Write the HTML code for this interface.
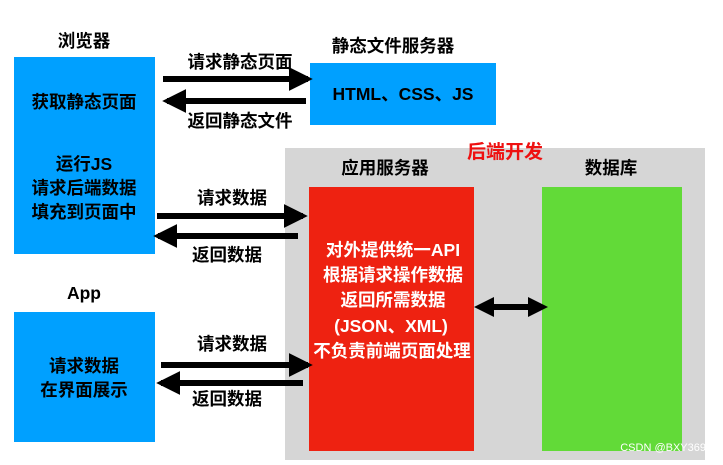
<!DOCTYPE html>
<html><head><meta charset="utf-8"><style>
html,body{margin:0;padding:0;background:#fff;}
svg text{font-family:"Liberation Sans","Noto Sans CJK SC",sans-serif;font-weight:bold;font-size:17.5px;}
</style></head><body>
<svg width="723" height="460" viewBox="0 0 723 460" xmlns="http://www.w3.org/2000/svg">
<defs>
<marker id="a" markerWidth="4" markerHeight="4" refX="3.2" refY="2" orient="auto" markerUnits="strokeWidth"><path d="M0,0 L4,2 L0,4 Z" fill="#000"/></marker>
</defs>
<rect x="285" y="148" width="420" height="312" fill="#d6d6d6"/>
<rect x="309" y="187" width="165" height="264" fill="#ee2211"/>
<rect x="542" y="187" width="140" height="264" fill="#62da38"/>
<rect x="14" y="57" width="141" height="197" fill="#00a0ff"/>
<rect x="14" y="312" width="141" height="130" fill="#00a0ff"/>
<rect x="310" y="63" width="186" height="62" fill="#00a0ff"/>

<g stroke="#000" stroke-width="6" fill="none">
<line x1="163" y1="79" x2="308" y2="79" marker-end="url(#a)"/>
<line x1="306" y1="101" x2="167" y2="101" marker-end="url(#a)"/>
<line x1="157" y1="216" x2="303" y2="216" marker-end="url(#a)"/>
<line x1="298" y1="236" x2="158" y2="236" marker-end="url(#a)"/>
<line x1="161" y1="365" x2="308" y2="365" marker-end="url(#a)"/>
<line x1="303" y1="383" x2="161" y2="383" marker-end="url(#a)"/>
<line x1="490" y1="307" x2="538" y2="307"/>
</g>
<path d="M474,307 L494,297 L494,317 Z" fill="#000"/>
<path d="M548,307 L528,297 L528,317 Z" fill="#000"/>

<g text-anchor="middle" fill="#000">
<text x="84" y="47">浏览器</text>
<text x="393" y="52">静态文件服务器</text>
<text x="84" y="299">App</text>
<text x="240" y="68">请求静态页面</text>
<text x="240" y="127">返回静态文件</text>
<text x="232" y="204">请求数据</text>
<text x="227" y="261">返回数据</text>
<text x="232" y="350">请求数据</text>
<text x="227" y="405">返回数据</text>
<text x="385" y="174">应用服务器</text>
<text x="611" y="174">数据库</text>
<text x="84" y="108">获取静态页面</text>
<text x="84" y="170">运行JS</text>
<text x="84" y="194">请求后端数据</text>
<text x="84" y="218">填充到页面中</text>
<text x="84" y="372">请求数据</text>
<text x="84" y="396">在界面展示</text>
</g>
<text x="403" y="100" text-anchor="middle" fill="#000">HTML、CSS、JS</text>
<text x="505" y="158" text-anchor="middle" fill="#ee1111" style="font-size:19px">后端开发</text>
<g text-anchor="middle" fill="#fff">
<text x="393" y="256">对外提供统一API</text>
<text x="393" y="281">根据请求操作数据</text>
<text x="393" y="306">返回所需数据</text>
<text x="391" y="332">(JSON、XML)</text>
<text x="392" y="357">不负责前端页面处理</text>
</g>
<text x="706" y="451" text-anchor="end" fill="#fff" style="font-size:11px;font-weight:normal">CSDN @BXY369</text>
</svg>
</body></html>
